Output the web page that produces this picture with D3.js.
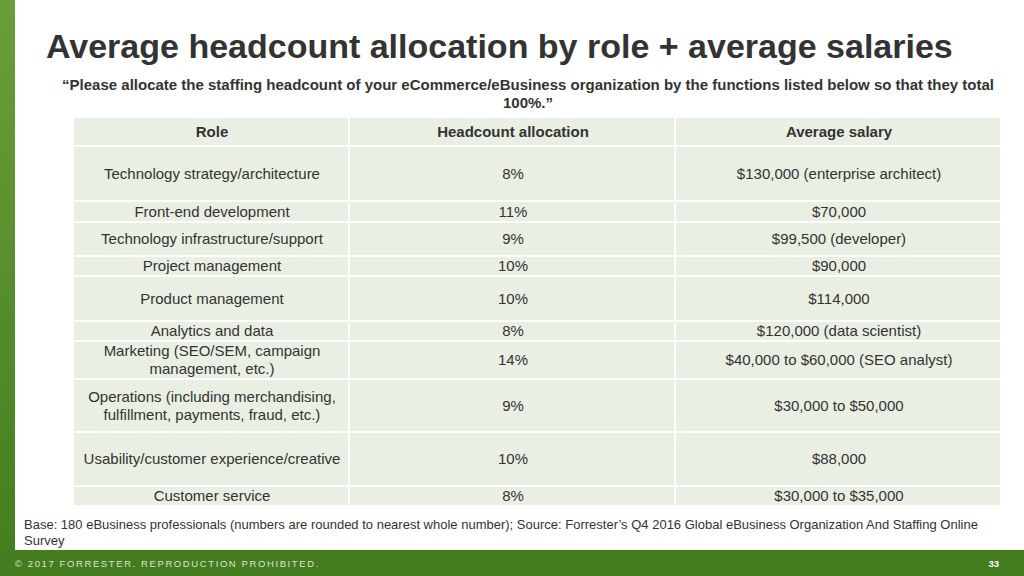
<!DOCTYPE html>
<html><head><meta charset="utf-8">
<script src="https://cdn.jsdelivr.net/npm/d3@7"></script>
<style>body{margin:0;background:#fff;font-family:"Liberation Sans",Arial,sans-serif}</style>
</head><body><svg id="c" width="1024" height="576"></svg>
<script>
// table content
var headers = ["Role", "Headcount allocation", "Average salary"];
var roles = ["Technology strategy/architecture", "Front-end development", "Technology infrastructure/support",
  "Project management", "Product management", "Analytics and data", "Marketing (SEO/SEM, campaign|management, etc.)",
  "Operations (including merchandising,|fulfillment, payments, fraud, etc.)", "Usability/customer experience/creative", "Customer service"];
var headcount = ["8%", "11%", "9%", "10%", "10%", "8%", "14%", "9%", "10%", "8%"];
var salaries = ["$130,000 (enterprise architect)", "$70,000", "$99,500 (developer)", "$90,000", "$114,000",
  "$120,000 (data scientist)", "$40,000 to $60,000 (SEO analyst)", "$30,000 to $50,000", "$88,000", "$30,000 to $35,000"];
var rowEdges = [118, 147, 202, 223, 257, 277, 322, 342, 380, 433, 487, 507];
var colEdges = [74, 350, 676, 1002];

var svg = d3.select("#c");
var defs = svg.append("defs");
var g = defs.append("linearGradient").attr("id", "lg").attr("x1", 0).attr("x2", 0).attr("y1", 0).attr("y2", 1);
g.append("stop").attr("offset", "0").attr("stop-color", "#6b9e3a");
g.append("stop").attr("offset", "1").attr("stop-color", "#437d1f");
svg.append("rect").attr("x", 0).attr("y", 0).attr("width", 15).attr("height", 576).attr("fill", "url(#lg)");
svg.append("rect").attr("x", 0).attr("y", 550).attr("width", 1024).attr("height", 26).attr("fill", "#437d1f");
svg.append("text").attr("x", 15).attr("y", 567).attr("fill", "#d8e6cc").attr("font-size", 9.5)
  .attr("letter-spacing", 1.6).text("© 2017 FORRESTER. REPRODUCTION PROHIBITED.");
svg.append("text").attr("x", 999).attr("y", 567).attr("fill", "#fff").attr("font-size", 9.5)
  .attr("font-weight", "bold").attr("text-anchor", "end").text("33");

svg.append("text").attr("x", 46).attr("y", 58).attr("font-size", 34).attr("font-weight", "bold")
  .attr("fill", "#333").text("Average headcount allocation by role + average salaries");
svg.append("text").attr("x", 528).attr("y", 90).attr("font-size", 15).attr("font-weight", "bold")
  .attr("fill", "#333").attr("text-anchor", "middle")
  .text("“Please allocate the staffing headcount of your eCommerce/eBusiness organization by the functions listed below so that they total");
svg.append("text").attr("x", 528).attr("y", 108).attr("font-size", 15).attr("font-weight", "bold")
  .attr("fill", "#333").attr("text-anchor", "middle").text("100%.”");

var rows = [headers].concat(roles.map(function(r, i){ return [r, headcount[i], salaries[i]]; }));
rows.forEach(function(row, i){
  var y0 = rowEdges[i], y1 = rowEdges[i + 1];
  row.forEach(function(cell, j){
    var x0 = colEdges[j], x1 = colEdges[j + 1];
    svg.append("rect").attr("x", x0).attr("y", y0).attr("width", x1 - x0 - 2).attr("height", y1 - y0 - 2)
      .attr("fill", "#e9efe3");
    var lines = cell.split("|");
    var cy = (y0 + y1) / 2 - 1;
    lines.forEach(function(l, k){
      svg.append("text").attr("x", (x0 + x1) / 2).attr("y", cy + (k - (lines.length - 1) / 2) * 18 + 5)
        .attr("text-anchor", "middle").attr("font-size", 15).attr("fill", "#333")
        .attr("font-weight", i == 0 ? "bold" : "normal").text(l);
    });
  });
});

svg.append("text").attr("x", 24).attr("y", 529).attr("font-size", 13).attr("fill", "#333")
  .text("Base: 180 eBusiness professionals (numbers are rounded to nearest whole number); Source: Forrester’s Q4 2016 Global eBusiness Organization And Staffing Online");
svg.append("text").attr("x", 24).attr("y", 545).attr("font-size", 13).attr("fill", "#333").text("Survey");
</script></body></html>
